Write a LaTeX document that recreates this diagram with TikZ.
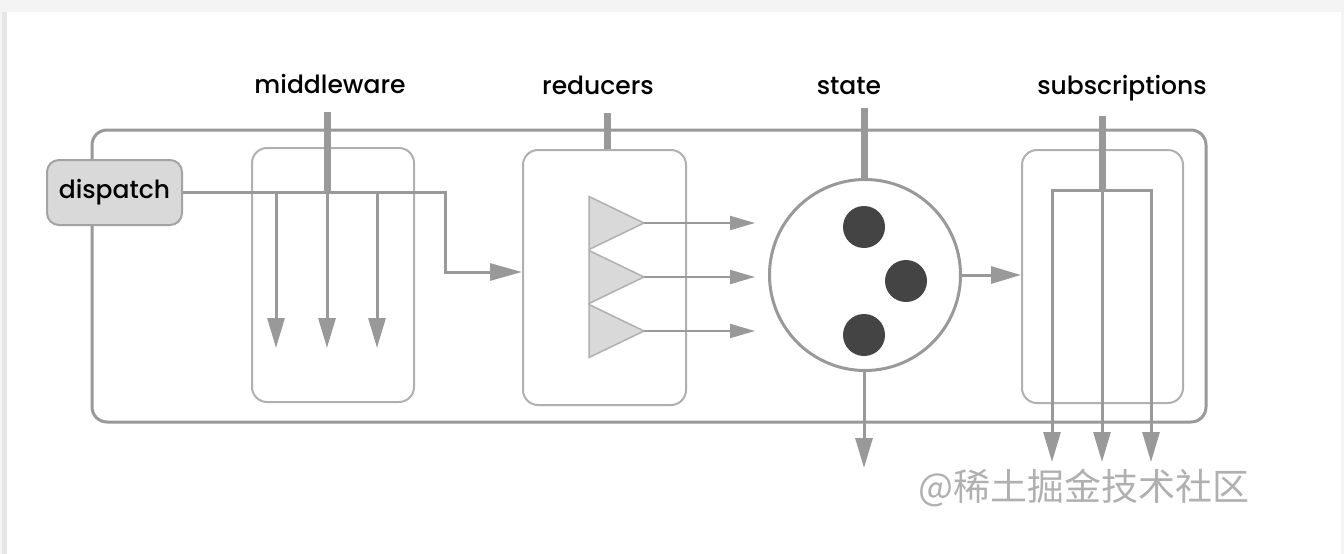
\documentclass[tikz,border=0pt]{standalone}
\usepackage{fontspec}
\setmainfont{Poppins}[UprightFont={* Medium}]
\newfontfamily\cjkfont{Noto Sans CJK SC}
\usetikzlibrary{arrows.meta,positioning}

\definecolor{pagegray}{HTML}{F4F4F4}
\definecolor{edgegray}{HTML}{E6E6E6}
\definecolor{linegray}{HTML}{999999}
\definecolor{boxgray}{HTML}{B0B0B0}
\definecolor{fillgray}{HTML}{D9D9D9}
\definecolor{dotgray}{HTML}{444444}

\tikzset{
  store/.style={draw=linegray, line width=3pt, rounded corners=15pt},
  stagebox/.style={draw=boxgray, line width=2pt, rounded corners=15pt, inner sep=0pt},
  dispatchbox/.style={draw=linegray!90, fill=fillgray, line width=2pt, rounded corners=12pt,
    minimum width=135pt, minimum height=65pt, inner sep=0pt, font=\fontsize{25}{30}\selectfont},
  title/.style={anchor=base, inner sep=0pt, font=\fontsize{25}{30}\selectfont},
  stem/.style={draw=linegray, line width=7pt},
  flow/.style={draw=linegray, line width=3pt},
  thinflow/.style={draw=linegray, line width=2pt},
  bigtip/.style={-{Triangle[length=30pt,width=17pt]}},
  smalltip/.style={-{Triangle[length=25pt,width=14pt]}},
  reducer/.style={draw=boxgray, fill=fillgray, line width=1.5pt, line join=miter},
  dot/.style={circle, fill=dotgray, minimum size=42pt, inner sep=0pt}
}

\begin{document}
\begin{tikzpicture}[x=1pt, y=-1pt]

  % page
  \fill[pagegray] (0,0) rectangle (1344,554);
  \fill[edgegray] (2,12) rectangle (7,554);
  \fill[white] (7,12) rectangle (1341,554);
  \useasboundingbox (0,0) rectangle (1344,554);

  % store frame and the four stages
  \node[store, minimum width=1114pt, minimum height=292pt] (frame) at (649,276) {};
  \node[stagebox, minimum width=162pt, minimum height=254pt] (mwbox) at (333,275) {};
  \node[stagebox, minimum width=163pt, minimum height=255pt] (redbox) at (604.5,277.5) {};
  \node[circle, draw=linegray, line width=3pt, minimum size=191pt, inner sep=0pt] (state) at (865,275) {};
  \node[stagebox, minimum width=161pt, minimum height=253pt] (subbox) at (1102.5,276.5) {};

  % labels
  \node[title] (mwlabel) at (330,93) {middleware};
  \node[title] (redlabel) at (598,94) {reducers};
  \node[title] (statelabel) at (849,94) {state};
  \node[title] (sublabel) at (1122,94) {subscriptions};

  \coordinate (mwtop) at (327,112);
  \coordinate (mwjoin) at (327,192);
  \coordinate (redtop) at (607,113);
  \coordinate (statetop) at (864,108);
  \coordinate (subtop) at (1102,116);
  \coordinate (subjoin) at (1102,190);

  \draw[stem] (mwtop) -- (mwjoin);
  \draw[stem] (redtop) -- (redtop |- redbox.north);
  \draw[stem] (statetop) -- (statetop |- state.north);
  \draw[stem] (subtop) -- (subjoin);

  % dispatch through middleware
  \node[dispatchbox] (dispatch) at (114.5,192.5) {dispatch};
  \coordinate (drop) at (445,272);
  \draw[flow, -{Triangle[length=32pt,width=17pt]}] (dispatch.east) -| (drop) -- (drop -| redbox.west);
  \foreach \x [count=\i] in {276,327,377} {
    \coordinate (mwa\i) at (\x,192);
    \coordinate (mwb\i) at (\x,348);
    \draw[flow, bigtip] (mwa\i) -- (mwb\i);
  }

  % reducers
  \foreach \y [count=\i] in {223,277,331} {
    \coordinate (tip\i) at (644,\y);
    \coordinate (out\i) at (755,\y);
    \draw[reducer] (589,\y-26.5) -- (tip\i) -- (589,\y+26.5) -- cycle;
    \draw[thinflow, smalltip] (tip\i) -- (out\i);
  }

  % state
  \node[dot] (d1) at (864,227) {};
  \node[dot] (d2) at (906,281) {};
  \node[dot] (d3) at (864,335) {};
  \coordinate (stateout) at (864,468);
  \draw[flow, bigtip] (stateout |- state.south) -- (stateout);
  \draw[flow, bigtip] (state.east) -- (state.east -| subbox.west);

  % subscriptions
  \coordinate (subl) at (1052,190);
  \coordinate (subr) at (1151,190);
  \draw[flow, line cap=rect] (subl) -- (subr);
  \foreach \x [count=\i] in {1052,1102,1151} {
    \coordinate (suba\i) at (\x,190);
    \coordinate (subb\i) at (\x,462);
    \draw[flow, bigtip] (suba\i) -- (subb\i);
  }

  \node[text=boxgray, font=\cjkfont\fontsize{37}{40}\selectfont, inner sep=0pt] (mark) at (1084,488) {@稀土掘金技术社区};

\end{tikzpicture}
\end{document}
